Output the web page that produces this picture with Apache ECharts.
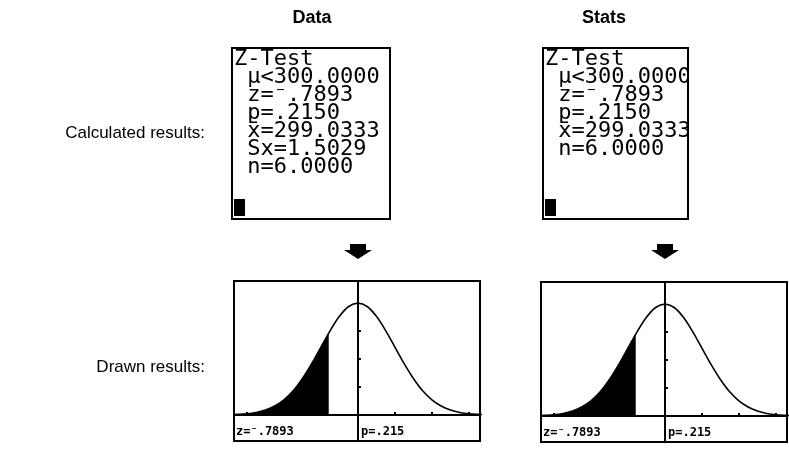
<!DOCTYPE html>
<html><head><meta charset="utf-8">
<script src="https://cdn.jsdelivr.net/npm/echarts@6/dist/echarts.min.js"></script>
<style>html,body{margin:0;padding:0;background:#fff}#c{width:789px;height:450px}</style>
</head><body><div id="c"></div><script>
// ---- data ----
const columnTitles = ['Data', 'Stats'];
const rowLabels = ['Calculated results:', 'Drawn results:'];
const dataScreenLines = ['Z-Test', ' μ<300.0000', ' z=⁻.7893', ' p=.2150', ' x̄=299.0333', ' Sx=1.5029', ' n=6.0000'];
const statsScreenLines = ['Z-Test', ' μ<300.0000', ' z=⁻.7893', ' p=.2150', ' x̄=299.0333', ' n=6.0000'];
const curveX = [-3.5, -3.25, -3.0, -2.75, -2.5, -2.25, -2.0, -1.75, -1.5, -1.25, -1.0, -0.75, -0.5, -0.25, 0, 0.25, 0.5, 0.75, 1.0, 1.25, 1.5, 1.75, 2.0, 2.25, 2.5, 2.75, 3.0, 3.25, 3.5];
const curveY = [0.001, 0.002, 0.004, 0.009, 0.018, 0.032, 0.054, 0.086, 0.130, 0.183, 0.242, 0.301, 0.352, 0.387, 0.399, 0.387, 0.352, 0.301, 0.242, 0.183, 0.130, 0.086, 0.054, 0.032, 0.018, 0.009, 0.004, 0.002, 0.001];
const zStat = -0.7893;
const zDensity = 0.292;
const zText = 'z=⁻.7893';
const pText = 'p=.215';
const xTicks = [-3, -2, -1, 1, 2, 3];
const yTicks = [0.1, 0.2, 0.3];

// ---- layout ----
const screens = [{x: 232, w: 158, cx: 312, lines: dataScreenLines}, {x: 543, w: 145, cx: 604, lines: statsScreenLines}];
const graphs = [{x: 234, y: 281, ax: 358}, {x: 541, y: 282, ax: 665}];
const GW = 246, GH = 160;
const SY = 48, SH = 171;
const mono = '"DejaVu Sans Mono", monospace';

const curvePts = curveX.map((x, i) => [x, curveY[i]]);
const shadePts = curvePts.filter(p => p[0] <= zStat).concat([[zStat, zDensity]]);

const chart = echarts.init(document.getElementById('c'), null, {renderer: 'canvas'});
const grid = [], xAxis = [], yAxis = [], series = [], graphic = [];

graphs.forEach((g, i) => {
  grid.push({left: g.x, top: g.y, width: GW, height: GH, show: false});
  xAxis.push({type: 'value', gridIndex: i, min: -3.35, max: 3.3,
    axisLine: {show: true, onZero: true, lineStyle: {color: '#000', width: 2}},
    axisTick: {show: true, inside: true, length: 3, customValues: xTicks, lineStyle: {color: '#000', width: 2}},
    axisLabel: {show: false}, splitLine: {show: false}});
  yAxis.push({type: 'value', gridIndex: i, min: -0.093, max: 0.478,
    axisLine: {show: true, onZero: true, lineStyle: {color: '#000', width: 2}},
    axisTick: {show: true, inside: true, length: 3, customValues: yTicks, lineStyle: {color: '#000', width: 2}},
    axisLabel: {show: false}, splitLine: {show: false}});
  series.push({type: 'line', xAxisIndex: i, yAxisIndex: i, data: shadePts, symbol: 'none',
    lineStyle: {width: 0}, areaStyle: {color: '#000', opacity: 1}, animation: false, silent: true});
  series.push({type: 'line', xAxisIndex: i, yAxisIndex: i, data: curvePts, symbol: 'none', smooth: 0.3,
    lineStyle: {color: '#000', width: 1.6}, animation: false, silent: true});
  graphic.push({type: 'rect', shape: {x: g.x, y: g.y, width: GW, height: GH}, z: 100,
    style: {fill: 'none', stroke: '#000', lineWidth: 2}});
  graphic.push({type: 'text', x: g.x + 2, y: g.y + 151, z: 101,
    style: {text: zText, font: 'bold 12px ' + mono, fill: '#000', verticalAlign: 'middle'}});
  graphic.push({type: 'text', x: g.x + 127, y: g.y + 151, z: 101,
    style: {text: pText, font: 'bold 12px ' + mono, fill: '#000', verticalAlign: 'middle'}});
  graphic.push({type: 'polygon', z: 101, shape: {points: [[g.ax - 8, 244], [g.ax + 8, 244], [g.ax + 8, 250], [g.ax + 14, 250], [g.ax, 259], [g.ax - 14, 250], [g.ax - 8, 250]]},
    style: {fill: '#000'}});
});

screens.forEach((s, i) => {
  s.lines.forEach((ln, r) => {
    graphic.push({type: 'text', x: s.x + 2, y: 59 + r * 18, z: 101,
      style: {text: ln, font: '22px ' + mono, fill: '#000', verticalAlign: 'middle'}});
  });
  // crop of the screen image at its right edge
  graphic.push({type: 'rect', shape: {x: s.x + s.w, y: SY - 2, width: 60, height: SH + 4}, z: 102, style: {fill: '#fff'}});
  graphic.push({type: 'rect', shape: {x: s.x, y: SY, width: s.w, height: SH}, z: 103,
    style: {fill: 'none', stroke: '#000', lineWidth: 2}});
  graphic.push({type: 'rect', shape: {x: s.x + 2, y: 199, width: 11, height: 17}, z: 101, style: {fill: '#000'}});
  graphic.push({type: 'text', x: s.cx, y: 18, z: 101,
    style: {text: columnTitles[i], font: 'bold 18px "Liberation Sans", Arial', fill: '#000', align: 'center', verticalAlign: 'middle'}});
});

graphic.push({type: 'text', x: 205, y: 133, style: {text: rowLabels[0], font: '17px "Liberation Sans", Arial', fill: '#000', align: 'right', verticalAlign: 'middle'}});
graphic.push({type: 'text', x: 205, y: 367, style: {text: rowLabels[1], font: '17px "Liberation Sans", Arial', fill: '#000', align: 'right', verticalAlign: 'middle'}});

chart.setOption({animation: false, grid, xAxis, yAxis, series, graphic});
</script></body></html>
